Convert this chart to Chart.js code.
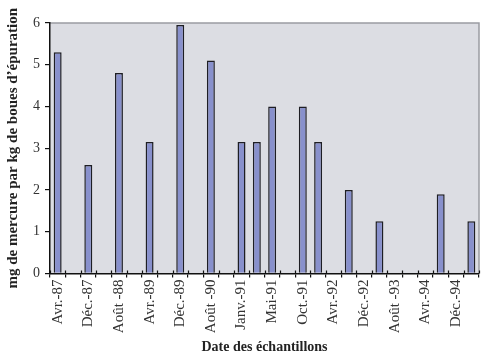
<!DOCTYPE html>
<html>
<head>
<meta charset="utf-8">
<script src="https://cdn.jsdelivr.net/npm/chart.js@4/dist/chart.umd.min.js"></script>
<style>
  html, body { margin: 0; padding: 0; background: #fff; }
  #wrap { width: 500px; height: 358px; }
</style>
</head>
<body>
<div id="wrap"><canvas id="chart" width="500" height="358"></canvas></div>
<script>
// Sampling dates (only every other one is labelled on the axis)
const categories = [
    'Avr.-87', '', 'Déc.-87', '', 'Août -88', '', 'Avr.-89', '', 'Déc.-89', '',
    'Août -90', '', 'Janv.-91', '', 'Mai-91', '', 'Oct.-91', '', 'Avr.-92', '',
    'Déc.-92', '', 'Août -93', '', 'Avr.-94', '', 'Déc.-94', ''
];

// mg Hg / kg sludge, null = no sample
const mercury = [
    5.3, null, 2.6, null, 4.8, null, 3.15, null, 5.95, null,
    5.1, null, 3.15, 3.15, 4.0, null, 4.0, 3.15, null, 2.0,
    null, 1.25, null, null, null, 1.9, null, 1.25
];

const yTicks = [0, 1, 2, 3, 4, 5, 6];

const serif = '"Liberation Serif", "DejaVu Serif", serif';

// Grey plot area with light frame on top / right
const plotBackground = {
    id: 'plotBackground',
    beforeDraw(chart) {
        const { ctx, chartArea: a } = chart;
        ctx.save();
        ctx.fillStyle = '#dcdde3';
        ctx.fillRect(a.left, a.top, a.right - a.left, a.bottom - a.top);
        ctx.strokeStyle = '#9a9ca3';
        ctx.lineWidth = 1.5;
        ctx.beginPath();
        ctx.moveTo(a.left, a.top);
        ctx.lineTo(a.right, a.top);
        ctx.lineTo(a.right, a.bottom);
        ctx.stroke();
        ctx.restore();
    },
    afterDatasetsDraw(chart) {
        // x tick marks poke a little into the plot area too
        const { ctx, chartArea: a, scales } = chart;
        const x = scales.x;
        ctx.save();
        ctx.strokeStyle = '#111';
        ctx.lineWidth = 1.2;
        ctx.beginPath();
        for (let i = 0; i <= categories.length; i++) {
            const px = Math.round(x.getPixelForValue(i - 0.5)) + 0.5;
            ctx.moveTo(px, a.bottom - 3);
            ctx.lineTo(px, a.bottom);
        }
        ctx.stroke();
        ctx.restore();
    }
};

new Chart(document.getElementById('chart'), {
    type: 'bar',
    data: {
        labels: categories,
        datasets: [{
            data: mercury,
            backgroundColor: '#8890cc',
            borderColor: '#1e1e24',
            borderWidth: 1.5,
            borderSkipped: 'bottom',
            barPercentage: 0.52,
            categoryPercentage: 1
        }]
    },
    options: {
        responsive: false,
        animation: false,
        layout: { padding: { top: 23, right: 21, left: 4, bottom: 2 } },
        plugins: {
            legend: { display: false },
            tooltip: { enabled: false }
        },
        scales: {
            x: {
                offset: true,
                grid: {
                    offset: true,
                    drawOnChartArea: false,
                    color: '#111',
                    lineWidth: 1.2,
                    tickLength: 4
                },
                border: { color: '#111', width: 1.5 },
                ticks: {
                    autoSkip: false,
                    minRotation: 90,
                    maxRotation: 90,
                    padding: 2,
                    color: '#333',
                    font: { family: serif, size: 15 }
                },
                title: {
                    display: true,
                    text: 'Date des échantillons',
                    color: '#222',
                    font: { family: serif, size: 14, weight: 'bold' },
                    padding: { top: 4, bottom: 0 }
                }
            },
            y: {
                min: 0,
                max: 6,
                afterBuildTicks(scale) {
                    scale.ticks = yTicks.map(v => ({ value: v }));
                },
                grid: {
                    drawOnChartArea: false,
                    color: '#111',
                    lineWidth: 1.2,
                    tickLength: 5
                },
                border: { color: '#111', width: 1.5 },
                ticks: {
                    padding: 5,
                    color: '#333',
                    font: { family: serif, size: 14 }
                },
                title: {
                    display: true,
                    text: 'mg de mercure par kg de boues d\u2019épuration',
                    color: '#222',
                    font: { family: serif, size: 15, weight: 'bold' },
                    padding: { top: 0, bottom: 6 }
                }
            }
        }
    },
    plugins: [plotBackground]
});
</script>
</body>
</html>
